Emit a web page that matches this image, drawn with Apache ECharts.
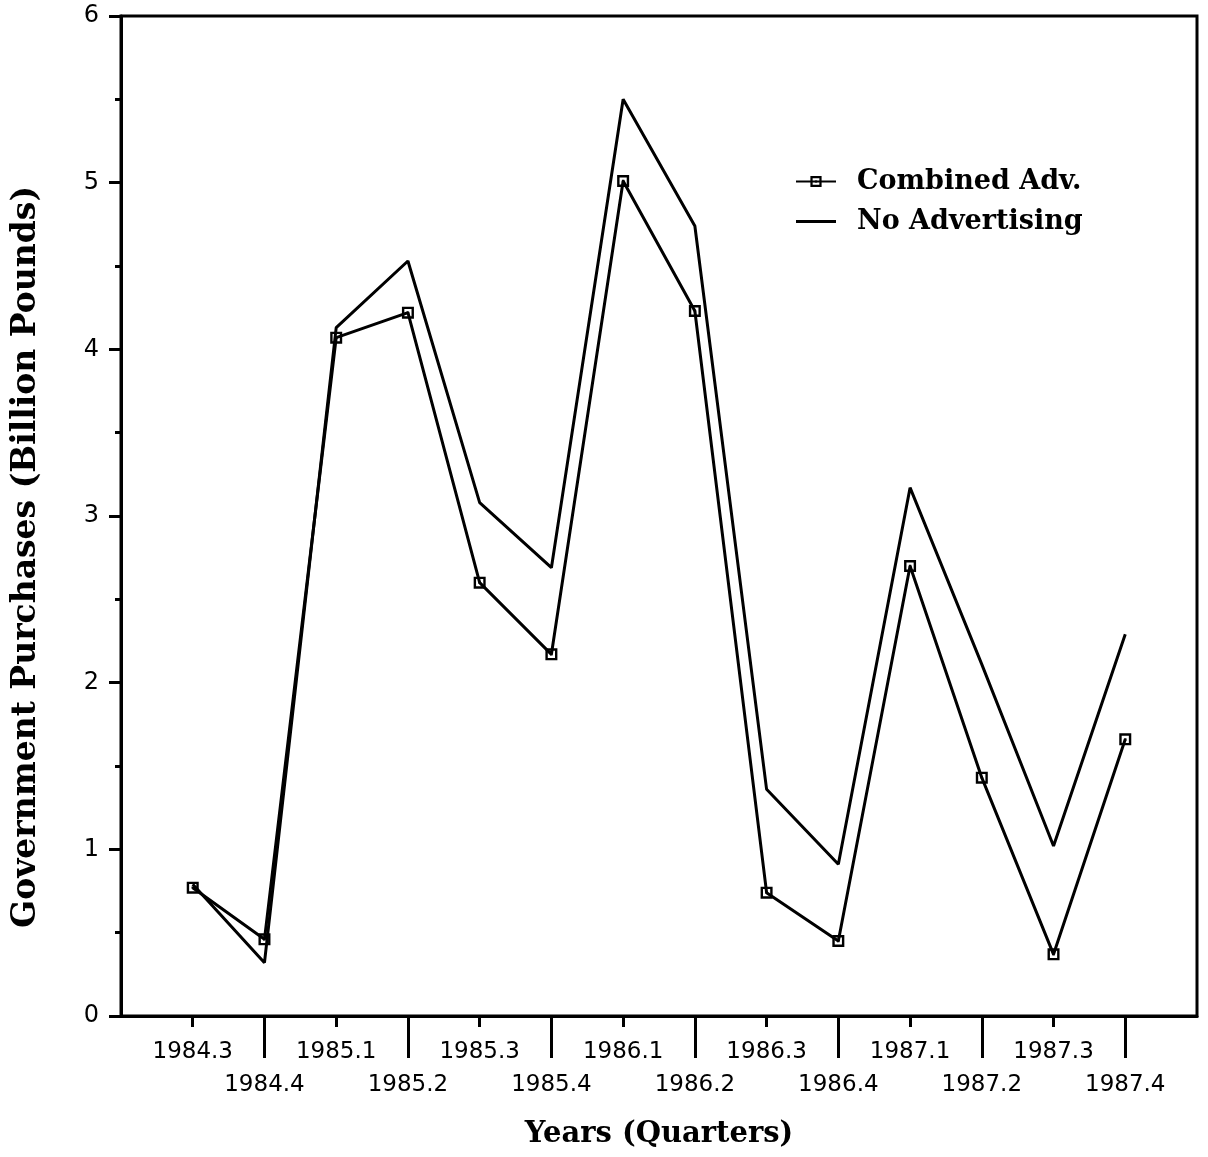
<!DOCTYPE html>
<html>
<head>
<meta charset="utf-8">
<title>Government Purchases</title>
<script src="https://cdn.jsdelivr.net/npm/echarts@6/dist/echarts.min.js"></script>
<style>
  html, body { margin: 0; padding: 0; background: #fff; }
  #chart { width: 1208px; height: 1157px; }
</style>
</head>
<body>
<div id="chart"></div>
<script>
// quarters on the x axis
var quarters = ['1984.3', '1984.4', '1985.1', '1985.2', '1985.3', '1985.4', '1986.1',
                '1986.2', '1986.3', '1986.4', '1987.1', '1987.2', '1987.3', '1987.4'];
// billion pounds
var combinedAdv = [0.77, 0.46, 4.07, 4.22, 2.60, 2.17, 5.01, 4.23, 0.74, 0.45, 2.70, 1.43, 0.37, 1.66];
var noAdvertising = [0.79, 0.32, 4.13, 4.53, 3.08, 2.69, 5.50, 4.74, 1.36, 0.91, 3.17, 2.11, 1.02, 2.29];
var yTicks = [0, 1, 2, 3, 4, 5, 6];

// empty slot at each end so the quarters sit one step in from the frame
var axisCats = [''].concat(quarters, ['']);

var serif = '"DejaVu Serif", serif';
var sans = '"DejaVu Sans", sans-serif';

// square with a dot in the middle
var boxSymbol = 'path://M0,0H10V10H0Z M2,2V8H8V2Z M4,4H6V6H4Z';
// plain line for the legend (hairlines top/bottom keep the box from stretching)
var lineIcon = 'path://M0,0H40V0.05H0Z M0,5.5H40V8.5H0Z M0,13.95H40V14H0Z';

var myChart = echarts.init(document.getElementById('chart'));

myChart.setOption({
    backgroundColor: '#fff',
    animation: false,
    grid: {
        left: 121, right: 11, top: 16, bottom: 141,
        outerBoundsMode: 'none',
        show: true, borderColor: '#000', borderWidth: 3
    },
    legend: {
        orient: 'vertical',
        left: 790, top: 163,
        itemWidth: 40, itemHeight: 14,
        itemGap: 13,
        textStyle: {fontFamily: serif, fontWeight: 'bold', fontSize: 27, color: '#000', padding: [0, 0, 0, 16]},
        data: ['Combined Adv.', {name: 'No Advertising', icon: lineIcon}]
    },
    graphic: [{
        type: 'text',
        x: 26, y: 557,
        rotation: Math.PI / 2,
        style: {
            text: 'Government Purchases (Billion Pounds)',
            font: 'bold 33px ' + serif,
            fill: '#000',
            align: 'center',
            verticalAlign: 'middle'
        }
    }],
    xAxis: [{
        type: 'category',
        data: axisCats,
        boundaryGap: false,
        name: 'Years (Quarters)',
        nameLocation: 'middle',
        nameGap: 104,
        nameTextStyle: {fontFamily: serif, fontWeight: 'bold', fontSize: 29, color: '#000'},
        axisLine: {lineStyle: {color: '#000', width: 3}},
        axisTick: {
            length: 11,
            lineStyle: {color: '#000', width: 3},
            interval: function (i) { return i % 2 === 1 && i < axisCats.length - 1; }
        },
        axisLabel: {
            interval: 0,
            margin: 20,
            fontFamily: sans, fontSize: 23, color: '#000',
            lineHeight: 33,
            formatter: function (v, i) { return i % 2 === 1 ? v : '\n' + v; }
        },
        splitLine: {show: false}
    }, {
        type: 'category',
        data: axisCats,
        boundaryGap: false,
        position: 'bottom',
        axisLine: {show: false},
        axisTick: {
            length: 42,
            lineStyle: {color: '#000', width: 3},
            interval: function (i) { return i > 0 && i % 2 === 0 && i < axisCats.length - 1; }
        },
        axisLabel: {show: false},
        splitLine: {show: false}
    }],
    yAxis: {
        type: 'value',
        min: yTicks[0], max: yTicks[yTicks.length - 1], interval: 1,
        axisLine: {show: true, lineStyle: {color: '#000', width: 3}},
        axisTick: {show: true, length: 12, lineStyle: {color: '#000', width: 3}},
        minorTick: {show: true, splitNumber: 2, length: 6, lineStyle: {color: '#000', width: 3}},
        axisLabel: {margin: 22, fontFamily: sans, fontSize: 24, color: '#000'},
        splitLine: {show: false}
    },
    series: [{
        name: 'Combined Adv.',
        type: 'line',
        data: quarters.map(function (q, i) { return [q, combinedAdv[i]]; }),
        symbol: boxSymbol,
        symbolSize: 12,
        itemStyle: {color: '#000'},
        lineStyle: {color: '#000', width: 3},
        z: 3
    }, {
        name: 'No Advertising',
        type: 'line',
        data: quarters.map(function (q, i) { return [q, noAdvertising[i]]; }),
        symbol: 'none',
        itemStyle: {color: '#000'},
        lineStyle: {color: '#000', width: 3},
        z: 2
    }]
});
</script>
</body>
</html>
